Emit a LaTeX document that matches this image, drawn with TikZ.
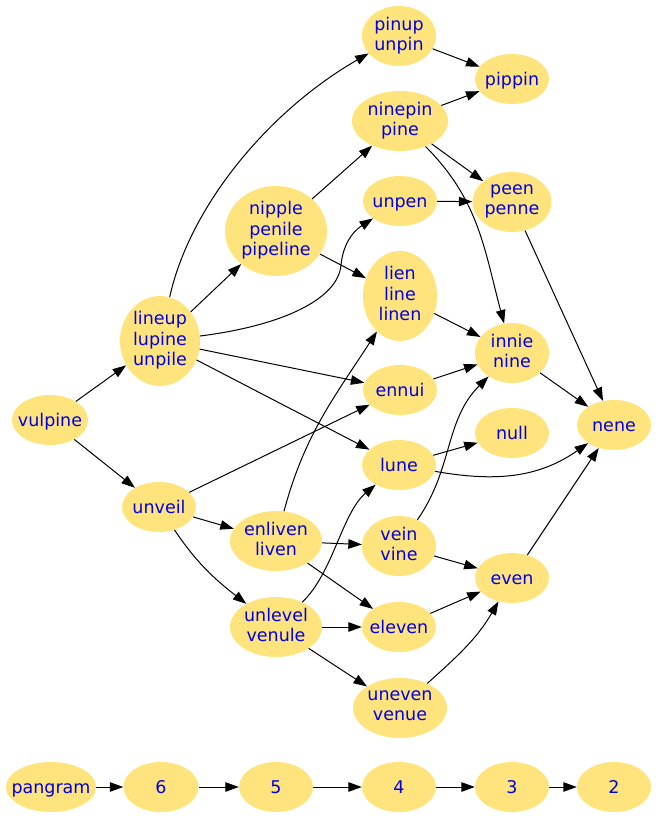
\documentclass[tikz,border=0pt]{standalone}
\usepackage{fontspec}
\setmainfont{DejaVu Sans}
\usetikzlibrary{shapes.geometric, arrows.meta}
\definecolor{wordfill}{RGB}{255,228,125}
\definecolor{wordtext}{RGB}{0,0,225}
\begin{document}
\begin{tikzpicture}[x = 1pt, y = -1pt,
	word/.style = {ellipse, fill = wordfill, text = wordtext, inner xsep = -12pt, inner ysep = 0pt, align = center,
		minimum width = 74pt, minimum height = 50pt, font = \fontsize{17.5}{20.5}\selectfont,
		execute at begin node = {\rule{0pt}{17.1pt}}, execute at end node = {\rule[-4.5pt]{0pt}{0pt}}},
	link/.style = {->, > = {Triangle[length = 13.5pt, width = 9.5pt]}, line width = 1pt}]
	\useasboundingbox ( 0, 0 ) rectangle ( 658, 818 );
	% anagram levels
	\node [word, minimum height = 60pt] (pinup) at ( 399, 36 ) {pinup\\unpin};
	\node [word] (pippin) at ( 512, 79 ) {pippin};
	\node [word, minimum width = 96pt, minimum height = 60pt] (ninepin) at ( 400, 121 ) {ninepin\\pine};
	\node [word, minimum width = 79pt, minimum height = 60pt] (peen) at ( 512, 202 ) {peen\\penne};
	\node [word] (unpen) at ( 400, 201 ) {unpen};
	\node [word, minimum width = 102pt, minimum height = 90pt] (nipple) at ( 276, 231 ) {nipple\\penile\\pipeline};
	\node [word, minimum height = 90pt] (lien) at ( 400, 296 ) {lien\\line\\linen};
	\node [word, minimum width = 80pt, minimum height = 90pt] (lineup) at ( 160, 341 ) {lineup\\lupine\\unpile};
	\node [word, minimum height = 60pt] (innie) at ( 512, 353 ) {innie\\nine};
	\node [word] (ennui) at ( 400, 390 ) {ennui};
	\node [word, minimum width = 76pt] (vulpine) at ( 50, 420 ) {vulpine};
	\node [word] (null) at ( 512, 433 ) {null};
	\node [word] (nene) at ( 614, 425 ) {nene};
	\node [word] (lune) at ( 399, 465 ) {lune};
	\node [word] (unveil) at ( 159, 507 ) {unveil};
	\node [word, minimum width = 92pt, minimum height = 60pt] (enliven) at ( 276, 541 ) {enliven\\liven};
	\node [word, minimum height = 60pt] (vein) at ( 399, 546 ) {vein\\vine};
	\node [word] (even) at ( 512, 578 ) {even};
	\node [word, minimum width = 92pt, minimum height = 60pt] (unlevel) at ( 276, 627 ) {unlevel\\venule};
	\node [word] (eleven) at ( 399, 627 ) {eleven};
	\node [word, minimum width = 94pt, minimum height = 60pt] (uneven) at ( 400, 708 ) {uneven\\venue};
	% counts
	\node [word, minimum width = 90pt] (pangram) at ( 51, 787 ) {pangram};
	\node [word, minimum width = 75pt] (six) at ( 161, 787 ) {6};
	\node [word] (five) at ( 276, 787 ) {5};
	\node [word] (four) at ( 399, 787 ) {4};
	\node [word] (three) at ( 512, 787 ) {3};
	\node [word] (two) at ( 614, 787 ) {2};
	% straight links
	\draw [link] (vulpine) -- (lineup);
	\draw [link] (vulpine) -- (unveil);
	\draw [link] (lineup) -- (nipple);
	\draw [link] (lineup) -- (ennui);
	\draw [link] (lineup) -- (lune);
	\draw [link] (nipple) -- (ninepin);
	\draw [link] (nipple) -- (lien);
	\draw [link] (pinup) -- (pippin);
	\draw [link] (ninepin) -- (pippin);
	\draw [link] (ninepin) -- (peen);
	\draw [link] (unpen) -- (peen);
	\draw [link] (peen) -- (nene);
	\draw [link] (lien) -- (innie);
	\draw [link] (ennui) -- (innie);
	\draw [link] (innie) -- (nene);
	\draw [link] (lune) -- (null);
	\draw [link] (unveil) -- (ennui);
	\draw [link] (unveil) -- (enliven);
	\draw [link] (enliven) -- (vein);
	\draw [link] (enliven) -- (eleven);
	\draw [link] (vein) -- (even);
	\draw [link] (unlevel) -- (eleven);
	\draw [link] (unlevel) -- (uneven);
	\draw [link] (eleven) -- (even);
	\draw [link] (even) -- (nene);
	% bent links
	\draw [link] (unveil) to [out = -56, in = 142] (unlevel);
	\draw [link] (uneven) to [out = 42, in = 240] (even);
	\draw [link] (lineup) .. controls ( 190, 205 ) and ( 270, 110 ) .. (pinup);
	\draw [link] (lineup) .. controls ( 280, 326 ) and ( 338, 300 ) .. ( 341, 265 ) .. controls ( 343, 245 ) and ( 352, 232 ) .. (unpen);
	\draw [link] (ninepin) to [out = -45, in = 105] (innie);
	\draw [link] (lune) to [out = -10, in = 215] (nene);
	\draw [link] (enliven) to [out = 75, in = 237] (lien);
	\draw [link] (vein) to [out = 55, in = 225] (innie);
	\draw [link] (unlevel) .. controls ( 333, 573 ) and ( 342, 513 ) .. (lune);
	% count chain
	\draw [link] (pangram) -- (six);
	\draw [link] (six) -- (five);
	\draw [link] (five) -- (four);
	\draw [link] (four) -- (three);
	\draw [link] (three) -- (two);
\end{tikzpicture}
\end{document}
